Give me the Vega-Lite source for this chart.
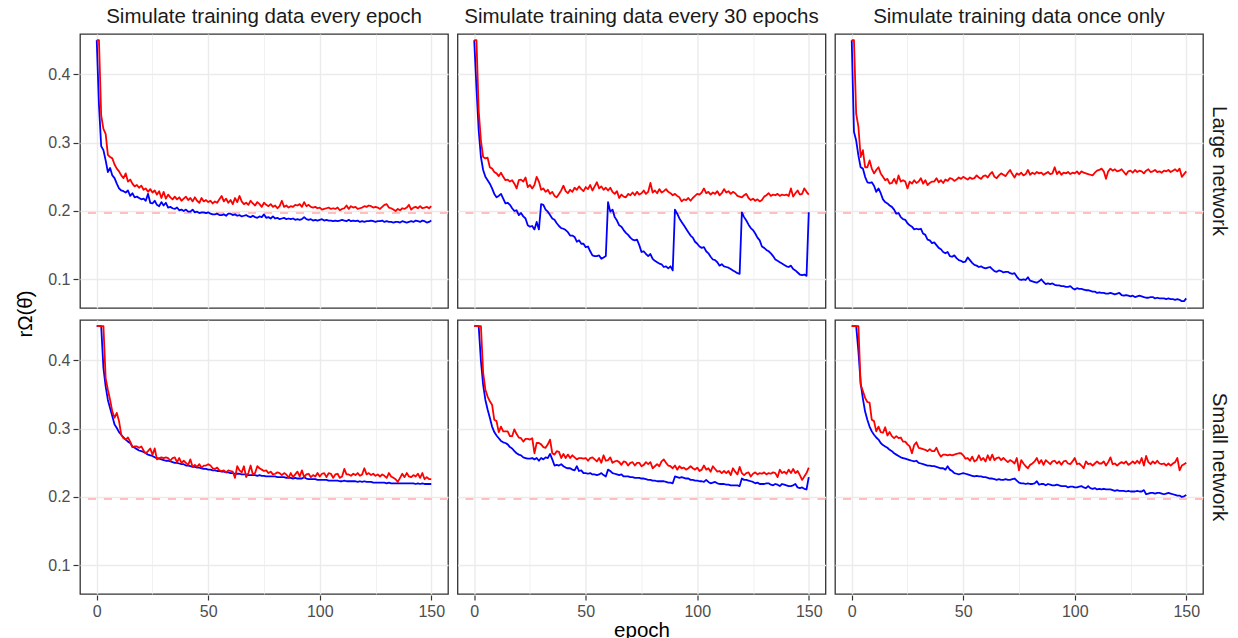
{
"$schema": "https://vega.github.io/schema/vega-lite/v6.json",
"background": "white",
"padding": {"left": 15, "top": 6, "right": 0, "bottom": 0},
"datasets": {
"panels": [
{"p":"LE","net":"Large network","sim":"Simulate training data every epoch"},
{"p":"L3","net":"Large network","sim":"Simulate training data every 30 epochs"},
{"p":"LO","net":"Large network","sim":"Simulate training data once only"},
{"p":"SE","net":"Small network","sim":"Simulate training data every epoch"},
{"p":"S3","net":"Small network","sim":"Simulate training data every 30 epochs"},
{"p":"SO","net":"Small network","sim":"Simulate training data once only"}
],
"d": [
{"p":"LE","e":0,"b":0.45,"r":0.45},{"p":"LE","e":1,"b":0.355,"r":0.45},{"p":"LE","e":2,"b":0.295,"r":0.34},{"p":"LE","e":3,"b":0.289,"r":0.32},{"p":"LE","e":4,"b":0.274,"r":0.313},{"p":"LE","e":5,"b":0.257,"r":0.282},{"p":"LE","e":6,"b":0.263,"r":0.279},{"p":"LE","e":7,"b":0.252,"r":0.277},{"p":"LE","e":8,"b":0.248,"r":0.268},{"p":"LE","e":9,"b":0.24,"r":0.262},
{"p":"LE","e":10,"b":0.233,"r":0.258},{"p":"LE","e":11,"b":0.23,"r":0.252},{"p":"LE","e":12,"b":0.229,"r":0.248},{"p":"LE","e":13,"b":0.227,"r":0.255},{"p":"LE","e":14,"b":0.23,"r":0.243},{"p":"LE","e":15,"b":0.222,"r":0.246},{"p":"LE","e":16,"b":0.226,"r":0.24},{"p":"LE","e":17,"b":0.22,"r":0.236},{"p":"LE","e":18,"b":0.221,"r":0.238},{"p":"LE","e":19,"b":0.219,"r":0.234},
{"p":"LE","e":20,"b":0.217,"r":0.237},{"p":"LE","e":21,"b":0.218,"r":0.231},{"p":"LE","e":22,"b":0.215,"r":0.233},{"p":"LE","e":23,"b":0.225,"r":0.228},{"p":"LE","e":24,"b":0.212,"r":0.232},{"p":"LE","e":25,"b":0.211,"r":0.227},{"p":"LE","e":26,"b":0.215,"r":0.23},{"p":"LE","e":27,"b":0.209,"r":0.224},{"p":"LE","e":28,"b":0.207,"r":0.229},{"p":"LE","e":29,"b":0.213,"r":0.219},
{"p":"LE","e":30,"b":0.208,"r":0.228},{"p":"LE","e":31,"b":0.212,"r":0.218},{"p":"LE","e":32,"b":0.205,"r":0.224},{"p":"LE","e":33,"b":0.206,"r":0.22},{"p":"LE","e":34,"b":0.204,"r":0.217},{"p":"LE","e":35,"b":0.203,"r":0.221},{"p":"LE","e":36,"b":0.205,"r":0.217},{"p":"LE","e":37,"b":0.201,"r":0.22},{"p":"LE","e":38,"b":0.202,"r":0.215},{"p":"LE","e":39,"b":0.2,"r":0.218},
{"p":"LE","e":40,"b":0.202,"r":0.221},{"p":"LE","e":41,"b":0.199,"r":0.216},{"p":"LE","e":42,"b":0.199,"r":0.219},{"p":"LE","e":43,"b":0.202,"r":0.214},{"p":"LE","e":44,"b":0.198,"r":0.22},{"p":"LE","e":45,"b":0.199,"r":0.215},{"p":"LE","e":46,"b":0.197,"r":0.212},{"p":"LE","e":47,"b":0.198,"r":0.219},{"p":"LE","e":48,"b":0.198,"r":0.214},{"p":"LE","e":49,"b":0.197,"r":0.216},
{"p":"LE","e":50,"b":0.198,"r":0.213},{"p":"LE","e":51,"b":0.196,"r":0.215},{"p":"LE","e":52,"b":0.195,"r":0.211},{"p":"LE","e":53,"b":0.195,"r":0.214},{"p":"LE","e":54,"b":0.196,"r":0.212},{"p":"LE","e":55,"b":0.194,"r":0.217},{"p":"LE","e":56,"b":0.194,"r":0.222},{"p":"LE","e":57,"b":0.195,"r":0.214},{"p":"LE","e":58,"b":0.193,"r":0.218},{"p":"LE","e":59,"b":0.196,"r":0.212},
{"p":"LE","e":60,"b":0.196,"r":0.216},{"p":"LE","e":61,"b":0.194,"r":0.21},{"p":"LE","e":62,"b":0.195,"r":0.219},{"p":"LE","e":63,"b":0.193,"r":0.213},{"p":"LE","e":64,"b":0.194,"r":0.222},{"p":"LE","e":65,"b":0.192,"r":0.214},{"p":"LE","e":66,"b":0.193,"r":0.21},{"p":"LE","e":67,"b":0.194,"r":0.212},{"p":"LE","e":68,"b":0.192,"r":0.209},{"p":"LE","e":69,"b":0.191,"r":0.215},
{"p":"LE","e":70,"b":0.193,"r":0.211},{"p":"LE","e":71,"b":0.191,"r":0.208},{"p":"LE","e":72,"b":0.19,"r":0.213},{"p":"LE","e":73,"b":0.192,"r":0.21},{"p":"LE","e":74,"b":0.191,"r":0.206},{"p":"LE","e":75,"b":0.195,"r":0.212},{"p":"LE","e":76,"b":0.19,"r":0.209},{"p":"LE","e":77,"b":0.191,"r":0.207},{"p":"LE","e":78,"b":0.189,"r":0.21},{"p":"LE","e":79,"b":0.192,"r":0.206},
{"p":"LE","e":80,"b":0.189,"r":0.208},{"p":"LE","e":81,"b":0.19,"r":0.204},{"p":"LE","e":82,"b":0.188,"r":0.207},{"p":"LE","e":83,"b":0.189,"r":0.215},{"p":"LE","e":84,"b":0.19,"r":0.206},{"p":"LE","e":85,"b":0.188,"r":0.208},{"p":"LE","e":86,"b":0.189,"r":0.205},{"p":"LE","e":87,"b":0.188,"r":0.207},{"p":"LE","e":88,"b":0.189,"r":0.206},{"p":"LE","e":89,"b":0.187,"r":0.209},
{"p":"LE","e":90,"b":0.188,"r":0.208},{"p":"LE","e":91,"b":0.187,"r":0.21},{"p":"LE","e":92,"b":0.188,"r":0.206},{"p":"LE","e":93,"b":0.191,"r":0.213},{"p":"LE","e":94,"b":0.188,"r":0.207},{"p":"LE","e":95,"b":0.187,"r":0.209},{"p":"LE","e":96,"b":0.188,"r":0.206},{"p":"LE","e":97,"b":0.186,"r":0.205},{"p":"LE","e":98,"b":0.187,"r":0.206},{"p":"LE","e":99,"b":0.186,"r":0.204},
{"p":"LE","e":100,"b":0.187,"r":0.205},{"p":"LE","e":101,"b":0.188,"r":0.202},{"p":"LE","e":102,"b":0.186,"r":0.203},{"p":"LE","e":103,"b":0.187,"r":0.204},{"p":"LE","e":104,"b":0.186,"r":0.205},{"p":"LE","e":105,"b":0.186,"r":0.203},{"p":"LE","e":106,"b":0.185,"r":0.204},{"p":"LE","e":107,"b":0.186,"r":0.203},{"p":"LE","e":108,"b":0.185,"r":0.205},{"p":"LE","e":109,"b":0.186,"r":0.201},
{"p":"LE","e":110,"b":0.187,"r":0.203},{"p":"LE","e":111,"b":0.186,"r":0.204},{"p":"LE","e":112,"b":0.185,"r":0.208},{"p":"LE","e":113,"b":0.187,"r":0.203},{"p":"LE","e":114,"b":0.185,"r":0.207},{"p":"LE","e":115,"b":0.186,"r":0.205},{"p":"LE","e":116,"b":0.185,"r":0.206},{"p":"LE","e":117,"b":0.186,"r":0.203},{"p":"LE","e":118,"b":0.184,"r":0.204},{"p":"LE","e":119,"b":0.185,"r":0.205},
{"p":"LE","e":120,"b":0.184,"r":0.207},{"p":"LE","e":121,"b":0.185,"r":0.206},{"p":"LE","e":122,"b":0.185,"r":0.208},{"p":"LE","e":123,"b":0.186,"r":0.207},{"p":"LE","e":124,"b":0.185,"r":0.205},{"p":"LE","e":125,"b":0.184,"r":0.206},{"p":"LE","e":126,"b":0.185,"r":0.205},{"p":"LE","e":127,"b":0.185,"r":0.203},{"p":"LE","e":128,"b":0.186,"r":0.206},{"p":"LE","e":129,"b":0.184,"r":0.209},
{"p":"LE","e":130,"b":0.185,"r":0.21},{"p":"LE","e":131,"b":0.184,"r":0.205},{"p":"LE","e":132,"b":0.184,"r":0.204},{"p":"LE","e":133,"b":0.183,"r":0.202},{"p":"LE","e":134,"b":0.184,"r":0.2},{"p":"LE","e":135,"b":0.184,"r":0.203},{"p":"LE","e":136,"b":0.183,"r":0.201},{"p":"LE","e":137,"b":0.185,"r":0.204},{"p":"LE","e":138,"b":0.184,"r":0.203},{"p":"LE","e":139,"b":0.183,"r":0.205},
{"p":"LE","e":140,"b":0.184,"r":0.209},{"p":"LE","e":141,"b":0.185,"r":0.202},{"p":"LE","e":142,"b":0.184,"r":0.205},{"p":"LE","e":143,"b":0.186,"r":0.206},{"p":"LE","e":144,"b":0.185,"r":0.204},{"p":"LE","e":145,"b":0.184,"r":0.207},{"p":"LE","e":146,"b":0.186,"r":0.204},{"p":"LE","e":147,"b":0.185,"r":0.205},{"p":"LE","e":148,"b":0.183,"r":0.206},{"p":"LE","e":149,"b":0.184,"r":0.204},
{"p":"LE","e":150,"b":0.186,"r":0.207},
{"p":"L3","e":0,"b":0.45,"r":0.45},{"p":"L3","e":1,"b":0.38,"r":0.45},{"p":"L3","e":2,"b":0.318,"r":0.347},{"p":"L3","e":3,"b":0.279,"r":0.303},{"p":"L3","e":4,"b":0.26,"r":0.279},{"p":"L3","e":5,"b":0.25,"r":0.277},{"p":"L3","e":6,"b":0.245,"r":0.278},{"p":"L3","e":7,"b":0.24,"r":0.264},{"p":"L3","e":8,"b":0.233,"r":0.262},{"p":"L3","e":9,"b":0.225,"r":0.257},
{"p":"L3","e":10,"b":0.22,"r":0.255},{"p":"L3","e":11,"b":0.222,"r":0.251},{"p":"L3","e":12,"b":0.225,"r":0.256},{"p":"L3","e":13,"b":0.218,"r":0.25},{"p":"L3","e":14,"b":0.211,"r":0.245},{"p":"L3","e":15,"b":0.212,"r":0.246},{"p":"L3","e":16,"b":0.209,"r":0.243},{"p":"L3","e":17,"b":0.204,"r":0.245},{"p":"L3","e":18,"b":0.2,"r":0.24},{"p":"L3","e":19,"b":0.201,"r":0.233},
{"p":"L3","e":20,"b":0.194,"r":0.245},{"p":"L3","e":21,"b":0.197,"r":0.246},{"p":"L3","e":22,"b":0.192,"r":0.243},{"p":"L3","e":23,"b":0.189,"r":0.249},{"p":"L3","e":24,"b":0.179,"r":0.235},{"p":"L3","e":25,"b":0.177,"r":0.238},{"p":"L3","e":26,"b":0.178,"r":0.233},{"p":"L3","e":27,"b":0.173,"r":0.238},{"p":"L3","e":28,"b":0.184,"r":0.25},{"p":"L3","e":29,"b":0.173,"r":0.243},
{"p":"L3","e":30,"b":0.21,"r":0.231},{"p":"L3","e":31,"b":0.209,"r":0.233},{"p":"L3","e":32,"b":0.202,"r":0.228},{"p":"L3","e":33,"b":0.199,"r":0.231},{"p":"L3","e":34,"b":0.194,"r":0.225},{"p":"L3","e":35,"b":0.189,"r":0.228},{"p":"L3","e":36,"b":0.187,"r":0.222},{"p":"L3","e":37,"b":0.182,"r":0.22},{"p":"L3","e":38,"b":0.178,"r":0.225},{"p":"L3","e":39,"b":0.175,"r":0.23},
{"p":"L3","e":40,"b":0.174,"r":0.237},{"p":"L3","e":41,"b":0.172,"r":0.229},{"p":"L3","e":42,"b":0.169,"r":0.226},{"p":"L3","e":43,"b":0.164,"r":0.231},{"p":"L3","e":44,"b":0.164,"r":0.228},{"p":"L3","e":45,"b":0.162,"r":0.234},{"p":"L3","e":46,"b":0.155,"r":0.231},{"p":"L3","e":47,"b":0.157,"r":0.236},{"p":"L3","e":48,"b":0.152,"r":0.232},{"p":"L3","e":49,"b":0.152,"r":0.229},
{"p":"L3","e":50,"b":0.147,"r":0.235},{"p":"L3","e":51,"b":0.148,"r":0.232},{"p":"L3","e":52,"b":0.141,"r":0.238},{"p":"L3","e":53,"b":0.135,"r":0.23},{"p":"L3","e":54,"b":0.134,"r":0.236},{"p":"L3","e":55,"b":0.134,"r":0.242},{"p":"L3","e":56,"b":0.135,"r":0.233},{"p":"L3","e":57,"b":0.13,"r":0.236},{"p":"L3","e":58,"b":0.132,"r":0.231},{"p":"L3","e":59,"b":0.134,"r":0.234},
{"p":"L3","e":60,"b":0.213,"r":0.23},{"p":"L3","e":61,"b":0.199,"r":0.234},{"p":"L3","e":62,"b":0.202,"r":0.228},{"p":"L3","e":63,"b":0.191,"r":0.225},{"p":"L3","e":64,"b":0.186,"r":0.229},{"p":"L3","e":65,"b":0.179,"r":0.219},{"p":"L3","e":66,"b":0.177,"r":0.224},{"p":"L3","e":67,"b":0.172,"r":0.221},{"p":"L3","e":68,"b":0.168,"r":0.22},{"p":"L3","e":69,"b":0.165,"r":0.225},
{"p":"L3","e":70,"b":0.161,"r":0.223},{"p":"L3","e":71,"b":0.158,"r":0.227},{"p":"L3","e":72,"b":0.157,"r":0.223},{"p":"L3","e":73,"b":0.158,"r":0.228},{"p":"L3","e":74,"b":0.15,"r":0.224},{"p":"L3","e":75,"b":0.14,"r":0.226},{"p":"L3","e":76,"b":0.141,"r":0.23},{"p":"L3","e":77,"b":0.137,"r":0.225},{"p":"L3","e":78,"b":0.134,"r":0.228},{"p":"L3","e":79,"b":0.137,"r":0.241},
{"p":"L3","e":80,"b":0.13,"r":0.227},{"p":"L3","e":81,"b":0.127,"r":0.23},{"p":"L3","e":82,"b":0.125,"r":0.226},{"p":"L3","e":83,"b":0.123,"r":0.232},{"p":"L3","e":84,"b":0.122,"r":0.227},{"p":"L3","e":85,"b":0.118,"r":0.229},{"p":"L3","e":86,"b":0.119,"r":0.232},{"p":"L3","e":87,"b":0.116,"r":0.228},{"p":"L3","e":88,"b":0.119,"r":0.226},{"p":"L3","e":89,"b":0.113,"r":0.223},
{"p":"L3","e":90,"b":0.202,"r":0.225},{"p":"L3","e":91,"b":0.196,"r":0.222},{"p":"L3","e":92,"b":0.189,"r":0.22},{"p":"L3","e":93,"b":0.184,"r":0.214},{"p":"L3","e":94,"b":0.179,"r":0.217},{"p":"L3","e":95,"b":0.174,"r":0.216},{"p":"L3","e":96,"b":0.169,"r":0.219},{"p":"L3","e":97,"b":0.164,"r":0.215},{"p":"L3","e":98,"b":0.161,"r":0.219},{"p":"L3","e":99,"b":0.155,"r":0.222},
{"p":"L3","e":100,"b":0.152,"r":0.225},{"p":"L3","e":101,"b":0.148,"r":0.224},{"p":"L3","e":102,"b":0.146,"r":0.227},{"p":"L3","e":103,"b":0.147,"r":0.233},{"p":"L3","e":104,"b":0.141,"r":0.226},{"p":"L3","e":105,"b":0.138,"r":0.228},{"p":"L3","e":106,"b":0.133,"r":0.224},{"p":"L3","e":107,"b":0.129,"r":0.227},{"p":"L3","e":108,"b":0.128,"r":0.225},{"p":"L3","e":109,"b":0.125,"r":0.229},
{"p":"L3","e":110,"b":0.12,"r":0.223},{"p":"L3","e":111,"b":0.122,"r":0.226},{"p":"L3","e":112,"b":0.119,"r":0.232},{"p":"L3","e":113,"b":0.118,"r":0.227},{"p":"L3","e":114,"b":0.117,"r":0.229},{"p":"L3","e":115,"b":0.115,"r":0.225},{"p":"L3","e":116,"b":0.113,"r":0.228},{"p":"L3","e":117,"b":0.111,"r":0.226},{"p":"L3","e":118,"b":0.109,"r":0.222},{"p":"L3","e":119,"b":0.108,"r":0.221},
{"p":"L3","e":120,"b":0.198,"r":0.22},{"p":"L3","e":121,"b":0.191,"r":0.223},{"p":"L3","e":122,"b":0.186,"r":0.225},{"p":"L3","e":123,"b":0.18,"r":0.219},{"p":"L3","e":124,"b":0.175,"r":0.216},{"p":"L3","e":125,"b":0.172,"r":0.218},{"p":"L3","e":126,"b":0.167,"r":0.215},{"p":"L3","e":127,"b":0.161,"r":0.217},{"p":"L3","e":128,"b":0.157,"r":0.214},{"p":"L3","e":129,"b":0.148,"r":0.216},
{"p":"L3","e":130,"b":0.146,"r":0.221},{"p":"L3","e":131,"b":0.143,"r":0.223},{"p":"L3","e":132,"b":0.141,"r":0.226},{"p":"L3","e":133,"b":0.138,"r":0.222},{"p":"L3","e":134,"b":0.134,"r":0.224},{"p":"L3","e":135,"b":0.129,"r":0.223},{"p":"L3","e":136,"b":0.127,"r":0.225},{"p":"L3","e":137,"b":0.125,"r":0.222},{"p":"L3","e":138,"b":0.123,"r":0.224},{"p":"L3","e":139,"b":0.121,"r":0.223},
{"p":"L3","e":140,"b":0.119,"r":0.224},{"p":"L3","e":141,"b":0.118,"r":0.222},{"p":"L3","e":142,"b":0.12,"r":0.233},{"p":"L3","e":143,"b":0.115,"r":0.221},{"p":"L3","e":144,"b":0.113,"r":0.226},{"p":"L3","e":145,"b":0.11,"r":0.23},{"p":"L3","e":146,"b":0.107,"r":0.224},{"p":"L3","e":147,"b":0.106,"r":0.225},{"p":"L3","e":148,"b":0.107,"r":0.233},{"p":"L3","e":149,"b":0.105,"r":0.228},
{"p":"L3","e":150,"b":0.198,"r":0.224},
{"p":"LO","e":0,"b":0.45,"r":0.45},{"p":"LO","e":1,"b":0.316,"r":0.45},{"p":"LO","e":2,"b":0.303,"r":0.342},{"p":"LO","e":3,"b":0.281,"r":0.323},{"p":"LO","e":4,"b":0.264,"r":0.279},{"p":"LO","e":5,"b":0.262,"r":0.289},{"p":"LO","e":6,"b":0.25,"r":0.264},{"p":"LO","e":7,"b":0.242,"r":0.264},{"p":"LO","e":8,"b":0.241,"r":0.274},{"p":"LO","e":9,"b":0.242,"r":0.262},
{"p":"LO","e":10,"b":0.237,"r":0.255},{"p":"LO","e":11,"b":0.228,"r":0.26},{"p":"LO","e":12,"b":0.233,"r":0.264},{"p":"LO","e":13,"b":0.226,"r":0.255},{"p":"LO","e":14,"b":0.217,"r":0.25},{"p":"LO","e":15,"b":0.213,"r":0.245},{"p":"LO","e":16,"b":0.211,"r":0.247},{"p":"LO","e":17,"b":0.208,"r":0.24},{"p":"LO","e":18,"b":0.206,"r":0.241},{"p":"LO","e":19,"b":0.202,"r":0.247},
{"p":"LO","e":20,"b":0.196,"r":0.24},{"p":"LO","e":21,"b":0.197,"r":0.252},{"p":"LO","e":22,"b":0.191,"r":0.243},{"p":"LO","e":23,"b":0.188,"r":0.245},{"p":"LO","e":24,"b":0.187,"r":0.243},{"p":"LO","e":25,"b":0.182,"r":0.233},{"p":"LO","e":26,"b":0.179,"r":0.243},{"p":"LO","e":27,"b":0.177,"r":0.24},{"p":"LO","e":28,"b":0.173,"r":0.245},{"p":"LO","e":29,"b":0.174,"r":0.241},
{"p":"LO","e":30,"b":0.173,"r":0.243},{"p":"LO","e":31,"b":0.174,"r":0.248},{"p":"LO","e":32,"b":0.167,"r":0.24},{"p":"LO","e":33,"b":0.165,"r":0.245},{"p":"LO","e":34,"b":0.158,"r":0.238},{"p":"LO","e":35,"b":0.157,"r":0.241},{"p":"LO","e":36,"b":0.153,"r":0.243},{"p":"LO","e":37,"b":0.154,"r":0.243},{"p":"LO","e":38,"b":0.15,"r":0.248},{"p":"LO","e":39,"b":0.146,"r":0.242},
{"p":"LO","e":40,"b":0.144,"r":0.245},{"p":"LO","e":41,"b":0.14,"r":0.241},{"p":"LO","e":42,"b":0.138,"r":0.246},{"p":"LO","e":43,"b":0.14,"r":0.244},{"p":"LO","e":44,"b":0.134,"r":0.248},{"p":"LO","e":45,"b":0.133,"r":0.247},{"p":"LO","e":46,"b":0.135,"r":0.244},{"p":"LO","e":47,"b":0.131,"r":0.246},{"p":"LO","e":48,"b":0.128,"r":0.249},{"p":"LO","e":49,"b":0.127,"r":0.247},
{"p":"LO","e":50,"b":0.125,"r":0.25},{"p":"LO","e":51,"b":0.126,"r":0.248},{"p":"LO","e":52,"b":0.132,"r":0.246},{"p":"LO","e":53,"b":0.128,"r":0.249},{"p":"LO","e":54,"b":0.124,"r":0.247},{"p":"LO","e":55,"b":0.121,"r":0.248},{"p":"LO","e":56,"b":0.12,"r":0.252},{"p":"LO","e":57,"b":0.118,"r":0.249},{"p":"LO","e":58,"b":0.119,"r":0.247},{"p":"LO","e":59,"b":0.117,"r":0.251},
{"p":"LO","e":60,"b":0.116,"r":0.252},{"p":"LO","e":61,"b":0.117,"r":0.249},{"p":"LO","e":62,"b":0.118,"r":0.254},{"p":"LO","e":63,"b":0.115,"r":0.257},{"p":"LO","e":64,"b":0.112,"r":0.25},{"p":"LO","e":65,"b":0.111,"r":0.248},{"p":"LO","e":66,"b":0.113,"r":0.252},{"p":"LO","e":67,"b":0.112,"r":0.255},{"p":"LO","e":68,"b":0.11,"r":0.253},{"p":"LO","e":69,"b":0.111,"r":0.251},
{"p":"LO","e":70,"b":0.111,"r":0.256},{"p":"LO","e":71,"b":0.109,"r":0.26},{"p":"LO","e":72,"b":0.108,"r":0.254},{"p":"LO","e":73,"b":0.109,"r":0.249},{"p":"LO","e":74,"b":0.104,"r":0.255},{"p":"LO","e":75,"b":0.1,"r":0.253},{"p":"LO","e":76,"b":0.099,"r":0.256},{"p":"LO","e":77,"b":0.1,"r":0.252},{"p":"LO","e":78,"b":0.099,"r":0.254},{"p":"LO","e":79,"b":0.103,"r":0.26},
{"p":"LO","e":80,"b":0.098,"r":0.253},{"p":"LO","e":81,"b":0.097,"r":0.256},{"p":"LO","e":82,"b":0.096,"r":0.254},{"p":"LO","e":83,"b":0.095,"r":0.257},{"p":"LO","e":84,"b":0.097,"r":0.255},{"p":"LO","e":85,"b":0.1,"r":0.256},{"p":"LO","e":86,"b":0.096,"r":0.253},{"p":"LO","e":87,"b":0.093,"r":0.255},{"p":"LO","e":88,"b":0.094,"r":0.257},{"p":"LO","e":89,"b":0.093,"r":0.254},
{"p":"LO","e":90,"b":0.094,"r":0.255},{"p":"LO","e":91,"b":0.092,"r":0.264},{"p":"LO","e":92,"b":0.091,"r":0.254},{"p":"LO","e":93,"b":0.091,"r":0.258},{"p":"LO","e":94,"b":0.09,"r":0.253},{"p":"LO","e":95,"b":0.09,"r":0.256},{"p":"LO","e":96,"b":0.089,"r":0.255},{"p":"LO","e":97,"b":0.089,"r":0.257},{"p":"LO","e":98,"b":0.09,"r":0.254},{"p":"LO","e":99,"b":0.087,"r":0.256},
{"p":"LO","e":100,"b":0.085,"r":0.255},{"p":"LO","e":101,"b":0.087,"r":0.258},{"p":"LO","e":102,"b":0.086,"r":0.254},{"p":"LO","e":103,"b":0.086,"r":0.258},{"p":"LO","e":104,"b":0.085,"r":0.256},{"p":"LO","e":105,"b":0.084,"r":0.255},{"p":"LO","e":106,"b":0.084,"r":0.254},{"p":"LO","e":107,"b":0.083,"r":0.253},{"p":"LO","e":108,"b":0.082,"r":0.252},{"p":"LO","e":109,"b":0.082,"r":0.256},
{"p":"LO","e":110,"b":0.08,"r":0.259},{"p":"LO","e":111,"b":0.081,"r":0.26},{"p":"LO","e":112,"b":0.08,"r":0.262},{"p":"LO","e":113,"b":0.08,"r":0.258},{"p":"LO","e":114,"b":0.079,"r":0.247},{"p":"LO","e":115,"b":0.079,"r":0.258},{"p":"LO","e":116,"b":0.08,"r":0.262},{"p":"LO","e":117,"b":0.079,"r":0.259},{"p":"LO","e":118,"b":0.078,"r":0.261},{"p":"LO","e":119,"b":0.079,"r":0.258},
{"p":"LO","e":120,"b":0.08,"r":0.259},{"p":"LO","e":121,"b":0.077,"r":0.261},{"p":"LO","e":122,"b":0.076,"r":0.257},{"p":"LO","e":123,"b":0.077,"r":0.253},{"p":"LO","e":124,"b":0.076,"r":0.258},{"p":"LO","e":125,"b":0.075,"r":0.259},{"p":"LO","e":126,"b":0.076,"r":0.256},{"p":"LO","e":127,"b":0.074,"r":0.26},{"p":"LO","e":128,"b":0.075,"r":0.257},{"p":"LO","e":129,"b":0.076,"r":0.259},
{"p":"LO","e":130,"b":0.075,"r":0.258},{"p":"LO","e":131,"b":0.074,"r":0.255},{"p":"LO","e":132,"b":0.073,"r":0.259},{"p":"LO","e":133,"b":0.073,"r":0.261},{"p":"LO","e":134,"b":0.074,"r":0.257},{"p":"LO","e":135,"b":0.074,"r":0.258},{"p":"LO","e":136,"b":0.072,"r":0.26},{"p":"LO","e":137,"b":0.073,"r":0.257},{"p":"LO","e":138,"b":0.072,"r":0.258},{"p":"LO","e":139,"b":0.072,"r":0.256},
{"p":"LO","e":140,"b":0.072,"r":0.259},{"p":"LO","e":141,"b":0.071,"r":0.258},{"p":"LO","e":142,"b":0.072,"r":0.26},{"p":"LO","e":143,"b":0.071,"r":0.257},{"p":"LO","e":144,"b":0.071,"r":0.259},{"p":"LO","e":145,"b":0.07,"r":0.261},{"p":"LO","e":146,"b":0.071,"r":0.258},{"p":"LO","e":147,"b":0.07,"r":0.262},{"p":"LO","e":148,"b":0.068,"r":0.25},{"p":"LO","e":149,"b":0.068,"r":0.254},
{"p":"LO","e":150,"b":0.072,"r":0.258},
{"p":"SE","e":0,"b":0.45,"r":0.45},{"p":"SE","e":1,"b":0.45,"r":0.45},{"p":"SE","e":2,"b":0.45,"r":0.45},{"p":"SE","e":3,"b":0.389,"r":0.45},{"p":"SE","e":4,"b":0.362,"r":0.374},{"p":"SE","e":5,"b":0.342,"r":0.357},{"p":"SE","e":6,"b":0.33,"r":0.342},{"p":"SE","e":7,"b":0.318,"r":0.325},{"p":"SE","e":8,"b":0.306,"r":0.316},{"p":"SE","e":9,"b":0.301,"r":0.323},
{"p":"SE","e":10,"b":0.295,"r":0.311},{"p":"SE","e":11,"b":0.291,"r":0.291},{"p":"SE","e":12,"b":0.287,"r":0.286},{"p":"SE","e":13,"b":0.284,"r":0.284},{"p":"SE","e":14,"b":0.281,"r":0.287},{"p":"SE","e":15,"b":0.279,"r":0.281},{"p":"SE","e":16,"b":0.274,"r":0.273},{"p":"SE","e":17,"b":0.272,"r":0.274},{"p":"SE","e":18,"b":0.27,"r":0.274},{"p":"SE","e":19,"b":0.268,"r":0.272},
{"p":"SE","e":20,"b":0.267,"r":0.274},{"p":"SE","e":21,"b":0.266,"r":0.268},{"p":"SE","e":22,"b":0.264,"r":0.264},{"p":"SE","e":23,"b":0.262,"r":0.267},{"p":"SE","e":24,"b":0.261,"r":0.271},{"p":"SE","e":25,"b":0.26,"r":0.262},{"p":"SE","e":26,"b":0.258,"r":0.271},{"p":"SE","e":27,"b":0.257,"r":0.255},{"p":"SE","e":28,"b":0.256,"r":0.257},{"p":"SE","e":29,"b":0.255,"r":0.258},
{"p":"SE","e":30,"b":0.254,"r":0.257},{"p":"SE","e":31,"b":0.253,"r":0.258},{"p":"SE","e":32,"b":0.253,"r":0.257},{"p":"SE","e":33,"b":0.252,"r":0.253},{"p":"SE","e":34,"b":0.251,"r":0.257},{"p":"SE","e":35,"b":0.25,"r":0.258},{"p":"SE","e":36,"b":0.25,"r":0.251},{"p":"SE","e":37,"b":0.249,"r":0.257},{"p":"SE","e":38,"b":0.248,"r":0.25},{"p":"SE","e":39,"b":0.248,"r":0.253},
{"p":"SE","e":40,"b":0.246,"r":0.25},{"p":"SE","e":41,"b":0.246,"r":0.247},{"p":"SE","e":42,"b":0.245,"r":0.255},{"p":"SE","e":43,"b":0.244,"r":0.244},{"p":"SE","e":44,"b":0.244,"r":0.247},{"p":"SE","e":45,"b":0.243,"r":0.244},{"p":"SE","e":46,"b":0.243,"r":0.248},{"p":"SE","e":47,"b":0.242,"r":0.243},{"p":"SE","e":48,"b":0.241,"r":0.246},{"p":"SE","e":49,"b":0.241,"r":0.246},
{"p":"SE","e":50,"b":0.24,"r":0.248},{"p":"SE","e":51,"b":0.24,"r":0.246},{"p":"SE","e":52,"b":0.239,"r":0.242},{"p":"SE","e":53,"b":0.239,"r":0.241},{"p":"SE","e":54,"b":0.238,"r":0.243},{"p":"SE","e":55,"b":0.238,"r":0.239},{"p":"SE","e":56,"b":0.237,"r":0.238},{"p":"SE","e":57,"b":0.237,"r":0.239},{"p":"SE","e":58,"b":0.236,"r":0.236},{"p":"SE","e":59,"b":0.236,"r":0.239},
{"p":"SE","e":60,"b":0.235,"r":0.238},{"p":"SE","e":61,"b":0.235,"r":0.237},{"p":"SE","e":62,"b":0.234,"r":0.228},{"p":"SE","e":63,"b":0.234,"r":0.245},{"p":"SE","e":64,"b":0.234,"r":0.239},{"p":"SE","e":65,"b":0.233,"r":0.236},{"p":"SE","e":66,"b":0.233,"r":0.245},{"p":"SE","e":67,"b":0.233,"r":0.229},{"p":"SE","e":68,"b":0.232,"r":0.235},{"p":"SE","e":69,"b":0.232,"r":0.246},
{"p":"SE","e":70,"b":0.232,"r":0.233},{"p":"SE","e":71,"b":0.232,"r":0.235},{"p":"SE","e":72,"b":0.231,"r":0.245},{"p":"SE","e":73,"b":0.232,"r":0.242},{"p":"SE","e":74,"b":0.231,"r":0.24},{"p":"SE","e":75,"b":0.231,"r":0.238},{"p":"SE","e":76,"b":0.23,"r":0.239},{"p":"SE","e":77,"b":0.23,"r":0.235},{"p":"SE","e":78,"b":0.23,"r":0.237},{"p":"SE","e":79,"b":0.23,"r":0.233},
{"p":"SE","e":80,"b":0.23,"r":0.234},{"p":"SE","e":81,"b":0.229,"r":0.236},{"p":"SE","e":82,"b":0.229,"r":0.235},{"p":"SE","e":83,"b":0.229,"r":0.232},{"p":"SE","e":84,"b":0.229,"r":0.235},{"p":"SE","e":85,"b":0.228,"r":0.233},{"p":"SE","e":86,"b":0.228,"r":0.228},{"p":"SE","e":87,"b":0.228,"r":0.235},{"p":"SE","e":88,"b":0.227,"r":0.229},{"p":"SE","e":89,"b":0.228,"r":0.233},
{"p":"SE","e":90,"b":0.227,"r":0.237},{"p":"SE","e":91,"b":0.227,"r":0.23},{"p":"SE","e":92,"b":0.227,"r":0.239},{"p":"SE","e":93,"b":0.229,"r":0.229},{"p":"SE","e":94,"b":0.227,"r":0.233},{"p":"SE","e":95,"b":0.226,"r":0.234},{"p":"SE","e":96,"b":0.226,"r":0.229},{"p":"SE","e":97,"b":0.226,"r":0.232},{"p":"SE","e":98,"b":0.226,"r":0.23},{"p":"SE","e":99,"b":0.225,"r":0.235},
{"p":"SE","e":100,"b":0.225,"r":0.23},{"p":"SE","e":101,"b":0.225,"r":0.234},{"p":"SE","e":102,"b":0.225,"r":0.235},{"p":"SE","e":103,"b":0.225,"r":0.229},{"p":"SE","e":104,"b":0.224,"r":0.235},{"p":"SE","e":105,"b":0.224,"r":0.234},{"p":"SE","e":106,"b":0.224,"r":0.228},{"p":"SE","e":107,"b":0.224,"r":0.233},{"p":"SE","e":108,"b":0.224,"r":0.234},{"p":"SE","e":109,"b":0.223,"r":0.228},
{"p":"SE","e":110,"b":0.223,"r":0.23},{"p":"SE","e":111,"b":0.224,"r":0.241},{"p":"SE","e":112,"b":0.223,"r":0.233},{"p":"SE","e":113,"b":0.223,"r":0.233},{"p":"SE","e":114,"b":0.223,"r":0.231},{"p":"SE","e":115,"b":0.223,"r":0.234},{"p":"SE","e":116,"b":0.223,"r":0.232},{"p":"SE","e":117,"b":0.222,"r":0.235},{"p":"SE","e":118,"b":0.223,"r":0.231},{"p":"SE","e":119,"b":0.222,"r":0.233},
{"p":"SE","e":120,"b":0.223,"r":0.242},{"p":"SE","e":121,"b":0.222,"r":0.233},{"p":"SE","e":122,"b":0.222,"r":0.235},{"p":"SE","e":123,"b":0.222,"r":0.232},{"p":"SE","e":124,"b":0.221,"r":0.234},{"p":"SE","e":125,"b":0.221,"r":0.231},{"p":"SE","e":126,"b":0.221,"r":0.233},{"p":"SE","e":127,"b":0.221,"r":0.23},{"p":"SE","e":128,"b":0.221,"r":0.233},{"p":"SE","e":129,"b":0.221,"r":0.231},
{"p":"SE","e":130,"b":0.22,"r":0.228},{"p":"SE","e":131,"b":0.221,"r":0.235},{"p":"SE","e":132,"b":0.22,"r":0.23},{"p":"SE","e":133,"b":0.22,"r":0.228},{"p":"SE","e":134,"b":0.22,"r":0.226},{"p":"SE","e":135,"b":0.22,"r":0.222},{"p":"SE","e":136,"b":0.22,"r":0.228},{"p":"SE","e":137,"b":0.22,"r":0.234},{"p":"SE","e":138,"b":0.22,"r":0.229},{"p":"SE","e":139,"b":0.22,"r":0.235},
{"p":"SE","e":140,"b":0.22,"r":0.23},{"p":"SE","e":141,"b":0.22,"r":0.229},{"p":"SE","e":142,"b":0.22,"r":0.232},{"p":"SE","e":143,"b":0.219,"r":0.23},{"p":"SE","e":144,"b":0.22,"r":0.234},{"p":"SE","e":145,"b":0.219,"r":0.228},{"p":"SE","e":146,"b":0.22,"r":0.235},{"p":"SE","e":147,"b":0.219,"r":0.226},{"p":"SE","e":148,"b":0.219,"r":0.229},{"p":"SE","e":149,"b":0.219,"r":0.226},
{"p":"SE","e":150,"b":0.219,"r":0.226},
{"p":"S3","e":0,"b":0.45,"r":0.45},{"p":"S3","e":1,"b":0.45,"r":0.45},{"p":"S3","e":2,"b":0.45,"r":0.45},{"p":"S3","e":3,"b":0.399,"r":0.45},{"p":"S3","e":4,"b":0.364,"r":0.382},{"p":"S3","e":5,"b":0.342,"r":0.357},{"p":"S3","e":6,"b":0.328,"r":0.347},{"p":"S3","e":7,"b":0.316,"r":0.34},{"p":"S3","e":8,"b":0.303,"r":0.335},{"p":"S3","e":9,"b":0.295,"r":0.313},
{"p":"S3","e":10,"b":0.29,"r":0.311},{"p":"S3","e":11,"b":0.286,"r":0.295},{"p":"S3","e":12,"b":0.282,"r":0.303},{"p":"S3","e":13,"b":0.28,"r":0.296},{"p":"S3","e":14,"b":0.279,"r":0.296},{"p":"S3","e":15,"b":0.277,"r":0.296},{"p":"S3","e":16,"b":0.273,"r":0.289},{"p":"S3","e":17,"b":0.271,"r":0.289},{"p":"S3","e":18,"b":0.267,"r":0.299},{"p":"S3","e":19,"b":0.264,"r":0.292},
{"p":"S3","e":20,"b":0.262,"r":0.287},{"p":"S3","e":21,"b":0.261,"r":0.286},{"p":"S3","e":22,"b":0.258,"r":0.281},{"p":"S3","e":23,"b":0.257,"r":0.285},{"p":"S3","e":24,"b":0.256,"r":0.285},{"p":"S3","e":25,"b":0.256,"r":0.284},{"p":"S3","e":26,"b":0.257,"r":0.286},{"p":"S3","e":27,"b":0.255,"r":0.264},{"p":"S3","e":28,"b":0.257,"r":0.279},{"p":"S3","e":29,"b":0.253,"r":0.279},
{"p":"S3","e":30,"b":0.257,"r":0.277},{"p":"S3","e":31,"b":0.255,"r":0.273},{"p":"S3","e":32,"b":0.258,"r":0.272},{"p":"S3","e":33,"b":0.257,"r":0.277},{"p":"S3","e":34,"b":0.263,"r":0.284},{"p":"S3","e":35,"b":0.255,"r":0.264},{"p":"S3","e":36,"b":0.246,"r":0.262},{"p":"S3","e":37,"b":0.247,"r":0.267},{"p":"S3","e":38,"b":0.246,"r":0.266},{"p":"S3","e":39,"b":0.248,"r":0.257},
{"p":"S3","e":40,"b":0.245,"r":0.263},{"p":"S3","e":41,"b":0.243,"r":0.257},{"p":"S3","e":42,"b":0.242,"r":0.262},{"p":"S3","e":43,"b":0.242,"r":0.257},{"p":"S3","e":44,"b":0.24,"r":0.261},{"p":"S3","e":45,"b":0.239,"r":0.258},{"p":"S3","e":46,"b":0.245,"r":0.255},{"p":"S3","e":47,"b":0.238,"r":0.257},{"p":"S3","e":48,"b":0.239,"r":0.257},{"p":"S3","e":49,"b":0.235,"r":0.256},
{"p":"S3","e":50,"b":0.235,"r":0.257},{"p":"S3","e":51,"b":0.234,"r":0.253},{"p":"S3","e":52,"b":0.235,"r":0.257},{"p":"S3","e":53,"b":0.233,"r":0.258},{"p":"S3","e":54,"b":0.233,"r":0.255},{"p":"S3","e":55,"b":0.232,"r":0.252},{"p":"S3","e":56,"b":0.233,"r":0.257},{"p":"S3","e":57,"b":0.235,"r":0.25},{"p":"S3","e":58,"b":0.232,"r":0.261},{"p":"S3","e":59,"b":0.23,"r":0.253},
{"p":"S3","e":60,"b":0.24,"r":0.254},{"p":"S3","e":61,"b":0.238,"r":0.258},{"p":"S3","e":62,"b":0.235,"r":0.25},{"p":"S3","e":63,"b":0.234,"r":0.252},{"p":"S3","e":64,"b":0.233,"r":0.253},{"p":"S3","e":65,"b":0.232,"r":0.251},{"p":"S3","e":66,"b":0.233,"r":0.247},{"p":"S3","e":67,"b":0.23,"r":0.252},{"p":"S3","e":68,"b":0.23,"r":0.251},{"p":"S3","e":69,"b":0.23,"r":0.246},
{"p":"S3","e":70,"b":0.229,"r":0.25},{"p":"S3","e":71,"b":0.229,"r":0.251},{"p":"S3","e":72,"b":0.228,"r":0.246},{"p":"S3","e":73,"b":0.228,"r":0.25},{"p":"S3","e":74,"b":0.228,"r":0.25},{"p":"S3","e":75,"b":0.227,"r":0.245},{"p":"S3","e":76,"b":0.227,"r":0.247},{"p":"S3","e":77,"b":0.226,"r":0.251},{"p":"S3","e":78,"b":0.225,"r":0.248},{"p":"S3","e":79,"b":0.225,"r":0.251},
{"p":"S3","e":80,"b":0.224,"r":0.242},{"p":"S3","e":81,"b":0.224,"r":0.245},{"p":"S3","e":82,"b":0.223,"r":0.248},{"p":"S3","e":83,"b":0.223,"r":0.245},{"p":"S3","e":84,"b":0.223,"r":0.252},{"p":"S3","e":85,"b":0.223,"r":0.255},{"p":"S3","e":86,"b":0.222,"r":0.25},{"p":"S3","e":87,"b":0.221,"r":0.246},{"p":"S3","e":88,"b":0.221,"r":0.245},{"p":"S3","e":89,"b":0.22,"r":0.242},
{"p":"S3","e":90,"b":0.23,"r":0.246},{"p":"S3","e":91,"b":0.229,"r":0.24},{"p":"S3","e":92,"b":0.228,"r":0.245},{"p":"S3","e":93,"b":0.229,"r":0.242},{"p":"S3","e":94,"b":0.228,"r":0.243},{"p":"S3","e":95,"b":0.227,"r":0.24},{"p":"S3","e":96,"b":0.227,"r":0.242},{"p":"S3","e":97,"b":0.225,"r":0.245},{"p":"S3","e":98,"b":0.225,"r":0.242},{"p":"S3","e":99,"b":0.224,"r":0.24},
{"p":"S3","e":100,"b":0.224,"r":0.243},{"p":"S3","e":101,"b":0.223,"r":0.238},{"p":"S3","e":102,"b":0.223,"r":0.24},{"p":"S3","e":103,"b":0.222,"r":0.246},{"p":"S3","e":104,"b":0.225,"r":0.24},{"p":"S3","e":105,"b":0.222,"r":0.242},{"p":"S3","e":106,"b":0.22,"r":0.237},{"p":"S3","e":107,"b":0.221,"r":0.245},{"p":"S3","e":108,"b":0.222,"r":0.241},{"p":"S3","e":109,"b":0.22,"r":0.237},
{"p":"S3","e":110,"b":0.219,"r":0.238},{"p":"S3","e":111,"b":0.219,"r":0.235},{"p":"S3","e":112,"b":0.219,"r":0.238},{"p":"S3","e":113,"b":0.218,"r":0.235},{"p":"S3","e":114,"b":0.218,"r":0.238},{"p":"S3","e":115,"b":0.217,"r":0.232},{"p":"S3","e":116,"b":0.217,"r":0.242},{"p":"S3","e":117,"b":0.217,"r":0.237},{"p":"S3","e":118,"b":0.217,"r":0.233},{"p":"S3","e":119,"b":0.216,"r":0.244},
{"p":"S3","e":120,"b":0.227,"r":0.235},{"p":"S3","e":121,"b":0.225,"r":0.232},{"p":"S3","e":122,"b":0.225,"r":0.235},{"p":"S3","e":123,"b":0.224,"r":0.236},{"p":"S3","e":124,"b":0.223,"r":0.23},{"p":"S3","e":125,"b":0.222,"r":0.234},{"p":"S3","e":126,"b":0.22,"r":0.236},{"p":"S3","e":127,"b":0.221,"r":0.233},{"p":"S3","e":128,"b":0.219,"r":0.235},{"p":"S3","e":129,"b":0.219,"r":0.234},
{"p":"S3","e":130,"b":0.219,"r":0.236},{"p":"S3","e":131,"b":0.22,"r":0.233},{"p":"S3","e":132,"b":0.22,"r":0.235},{"p":"S3","e":133,"b":0.218,"r":0.234},{"p":"S3","e":134,"b":0.217,"r":0.236},{"p":"S3","e":135,"b":0.219,"r":0.235},{"p":"S3","e":136,"b":0.218,"r":0.229},{"p":"S3","e":137,"b":0.216,"r":0.24},{"p":"S3","e":138,"b":0.219,"r":0.235},{"p":"S3","e":139,"b":0.218,"r":0.237},
{"p":"S3","e":140,"b":0.217,"r":0.234},{"p":"S3","e":141,"b":0.216,"r":0.24},{"p":"S3","e":142,"b":0.216,"r":0.235},{"p":"S3","e":143,"b":0.217,"r":0.241},{"p":"S3","e":144,"b":0.219,"r":0.235},{"p":"S3","e":145,"b":0.214,"r":0.238},{"p":"S3","e":146,"b":0.213,"r":0.232},{"p":"S3","e":147,"b":0.214,"r":0.225},{"p":"S3","e":148,"b":0.212,"r":0.23},{"p":"S3","e":149,"b":0.211,"r":0.235},
{"p":"S3","e":150,"b":0.229,"r":0.243},
{"p":"SO","e":0,"b":0.45,"r":0.45},{"p":"SO","e":1,"b":0.45,"r":0.45},{"p":"SO","e":2,"b":0.45,"r":0.45},{"p":"SO","e":3,"b":0.413,"r":0.45},{"p":"SO","e":4,"b":0.367,"r":0.364},{"p":"SO","e":5,"b":0.344,"r":0.355},{"p":"SO","e":6,"b":0.325,"r":0.345},{"p":"SO","e":7,"b":0.313,"r":0.339},{"p":"SO","e":8,"b":0.303,"r":0.338},{"p":"SO","e":9,"b":0.296,"r":0.313},
{"p":"SO","e":10,"b":0.291,"r":0.311},{"p":"SO","e":11,"b":0.287,"r":0.296},{"p":"SO","e":12,"b":0.284,"r":0.303},{"p":"SO","e":13,"b":0.279,"r":0.295},{"p":"SO","e":14,"b":0.276,"r":0.294},{"p":"SO","e":15,"b":0.274,"r":0.302},{"p":"SO","e":16,"b":0.272,"r":0.29},{"p":"SO","e":17,"b":0.269,"r":0.295},{"p":"SO","e":18,"b":0.267,"r":0.289},{"p":"SO","e":19,"b":0.264,"r":0.286},
{"p":"SO","e":20,"b":0.262,"r":0.289},{"p":"SO","e":21,"b":0.26,"r":0.286},{"p":"SO","e":22,"b":0.258,"r":0.287},{"p":"SO","e":23,"b":0.257,"r":0.281},{"p":"SO","e":24,"b":0.256,"r":0.281},{"p":"SO","e":25,"b":0.255,"r":0.277},{"p":"SO","e":26,"b":0.254,"r":0.274},{"p":"SO","e":27,"b":0.253,"r":0.264},{"p":"SO","e":28,"b":0.252,"r":0.276},{"p":"SO","e":29,"b":0.253,"r":0.28},
{"p":"SO","e":30,"b":0.25,"r":0.272},{"p":"SO","e":31,"b":0.249,"r":0.271},{"p":"SO","e":32,"b":0.248,"r":0.27},{"p":"SO","e":33,"b":0.247,"r":0.269},{"p":"SO","e":34,"b":0.246,"r":0.267},{"p":"SO","e":35,"b":0.246,"r":0.27},{"p":"SO","e":36,"b":0.245,"r":0.267},{"p":"SO","e":37,"b":0.245,"r":0.267},{"p":"SO","e":38,"b":0.244,"r":0.272},{"p":"SO","e":39,"b":0.243,"r":0.264},
{"p":"SO","e":40,"b":0.242,"r":0.259},{"p":"SO","e":41,"b":0.242,"r":0.262},{"p":"SO","e":42,"b":0.24,"r":0.262},{"p":"SO","e":43,"b":0.245,"r":0.261},{"p":"SO","e":44,"b":0.24,"r":0.262},{"p":"SO","e":45,"b":0.238,"r":0.261},{"p":"SO","e":46,"b":0.235,"r":0.262},{"p":"SO","e":47,"b":0.234,"r":0.263},{"p":"SO","e":48,"b":0.233,"r":0.264},{"p":"SO","e":49,"b":0.234,"r":0.264},
{"p":"SO","e":50,"b":0.235,"r":0.261},{"p":"SO","e":51,"b":0.234,"r":0.256},{"p":"SO","e":52,"b":0.233,"r":0.257},{"p":"SO","e":53,"b":0.232,"r":0.253},{"p":"SO","e":54,"b":0.231,"r":0.259},{"p":"SO","e":55,"b":0.23,"r":0.252},{"p":"SO","e":56,"b":0.231,"r":0.254},{"p":"SO","e":57,"b":0.23,"r":0.261},{"p":"SO","e":58,"b":0.23,"r":0.254},{"p":"SO","e":59,"b":0.229,"r":0.257},
{"p":"SO","e":60,"b":0.229,"r":0.252},{"p":"SO","e":61,"b":0.228,"r":0.261},{"p":"SO","e":62,"b":0.227,"r":0.254},{"p":"SO","e":63,"b":0.227,"r":0.262},{"p":"SO","e":64,"b":0.226,"r":0.254},{"p":"SO","e":65,"b":0.225,"r":0.257},{"p":"SO","e":66,"b":0.226,"r":0.258},{"p":"SO","e":67,"b":0.225,"r":0.254},{"p":"SO","e":68,"b":0.225,"r":0.257},{"p":"SO","e":69,"b":0.226,"r":0.254},
{"p":"SO","e":70,"b":0.225,"r":0.251},{"p":"SO","e":71,"b":0.225,"r":0.254},{"p":"SO","e":72,"b":0.226,"r":0.252},{"p":"SO","e":73,"b":0.227,"r":0.249},{"p":"SO","e":74,"b":0.224,"r":0.257},{"p":"SO","e":75,"b":0.221,"r":0.239},{"p":"SO","e":76,"b":0.22,"r":0.254},{"p":"SO","e":77,"b":0.22,"r":0.249},{"p":"SO","e":78,"b":0.219,"r":0.245},{"p":"SO","e":79,"b":0.22,"r":0.242},
{"p":"SO","e":80,"b":0.219,"r":0.247},{"p":"SO","e":81,"b":0.219,"r":0.249},{"p":"SO","e":82,"b":0.22,"r":0.252},{"p":"SO","e":83,"b":0.223,"r":0.257},{"p":"SO","e":84,"b":0.218,"r":0.249},{"p":"SO","e":85,"b":0.219,"r":0.254},{"p":"SO","e":86,"b":0.219,"r":0.247},{"p":"SO","e":87,"b":0.217,"r":0.254},{"p":"SO","e":88,"b":0.219,"r":0.251},{"p":"SO","e":89,"b":0.218,"r":0.248},
{"p":"SO","e":90,"b":0.217,"r":0.252},{"p":"SO","e":91,"b":0.217,"r":0.253},{"p":"SO","e":92,"b":0.218,"r":0.249},{"p":"SO","e":93,"b":0.217,"r":0.252},{"p":"SO","e":94,"b":0.216,"r":0.247},{"p":"SO","e":95,"b":0.216,"r":0.252},{"p":"SO","e":96,"b":0.216,"r":0.253},{"p":"SO","e":97,"b":0.214,"r":0.249},{"p":"SO","e":98,"b":0.215,"r":0.248},{"p":"SO","e":99,"b":0.215,"r":0.252},
{"p":"SO","e":100,"b":0.214,"r":0.257},{"p":"SO","e":101,"b":0.214,"r":0.248},{"p":"SO","e":102,"b":0.215,"r":0.249},{"p":"SO","e":103,"b":0.216,"r":0.246},{"p":"SO","e":104,"b":0.214,"r":0.242},{"p":"SO","e":105,"b":0.213,"r":0.252},{"p":"SO","e":106,"b":0.216,"r":0.248},{"p":"SO","e":107,"b":0.213,"r":0.249},{"p":"SO","e":108,"b":0.212,"r":0.246},{"p":"SO","e":109,"b":0.213,"r":0.249},
{"p":"SO","e":110,"b":0.211,"r":0.252},{"p":"SO","e":111,"b":0.212,"r":0.249},{"p":"SO","e":112,"b":0.211,"r":0.249},{"p":"SO","e":113,"b":0.212,"r":0.252},{"p":"SO","e":114,"b":0.211,"r":0.246},{"p":"SO","e":115,"b":0.211,"r":0.251},{"p":"SO","e":116,"b":0.211,"r":0.258},{"p":"SO","e":117,"b":0.21,"r":0.248},{"p":"SO","e":118,"b":0.209,"r":0.249},{"p":"SO","e":119,"b":0.21,"r":0.246},
{"p":"SO","e":120,"b":0.209,"r":0.249},{"p":"SO","e":121,"b":0.209,"r":0.251},{"p":"SO","e":122,"b":0.209,"r":0.249},{"p":"SO","e":123,"b":0.208,"r":0.252},{"p":"SO","e":124,"b":0.209,"r":0.247},{"p":"SO","e":125,"b":0.208,"r":0.249},{"p":"SO","e":126,"b":0.208,"r":0.252},{"p":"SO","e":127,"b":0.208,"r":0.249},{"p":"SO","e":128,"b":0.209,"r":0.253},{"p":"SO","e":129,"b":0.208,"r":0.249},
{"p":"SO","e":130,"b":0.208,"r":0.257},{"p":"SO","e":131,"b":0.21,"r":0.246},{"p":"SO","e":132,"b":0.204,"r":0.26},{"p":"SO","e":133,"b":0.205,"r":0.251},{"p":"SO","e":134,"b":0.206,"r":0.248},{"p":"SO","e":135,"b":0.206,"r":0.252},{"p":"SO","e":136,"b":0.205,"r":0.249},{"p":"SO","e":137,"b":0.206,"r":0.253},{"p":"SO","e":138,"b":0.206,"r":0.249},{"p":"SO","e":139,"b":0.205,"r":0.248},
{"p":"SO","e":140,"b":0.204,"r":0.249},{"p":"SO","e":141,"b":0.205,"r":0.246},{"p":"SO","e":142,"b":0.206,"r":0.249},{"p":"SO","e":143,"b":0.205,"r":0.246},{"p":"SO","e":144,"b":0.204,"r":0.249},{"p":"SO","e":145,"b":0.203,"r":0.251},{"p":"SO","e":146,"b":0.202,"r":0.257},{"p":"SO","e":147,"b":0.202,"r":0.239},{"p":"SO","e":148,"b":0.2,"r":0.246},{"p":"SO","e":149,"b":0.201,"r":0.248},
{"p":"SO","e":150,"b":0.203,"r":0.25}
]
},
"data": {"name": "d"},
"transform": [
{"lookup": "p", "from": {"data": {"name": "panels"}, "key": "p", "fields": ["net", "sim"]}}
],
"facet": {
"row": {"field": "net", "type": "nominal", "sort": ["Large network", "Small network"],
 "header": {"title": "rΩ(θ̂)", "titleOrient": "left", "titlePadding": 1, "labelOrient": "right", "labelAngle": 90, "labelAlign": "center", "labelBaseline": "top", "labelPadding": 3}},
"column": {"field": "sim", "type": "nominal", "sort": ["Simulate training data every epoch", "Simulate training data every 30 epochs", "Simulate training data once only"],
 "header": {"title": "epoch", "titleOrient": "bottom", "labelOrient": "top", "labelPadding": 6, "titlePadding": -8}}
},
"spacing": {"row": 10, "column": 5.5},
"spec": {
"width": 368,
"height": 274,
"layer": [
{
"transform": [{"filter": "datum.e == 0"}],
"mark": {"type": "rule", "color": "#FFBFBF", "strokeWidth": 1.8, "strokeDash": [8, 8]},
"encoding": {
"y": {"datum": 0.197, "type": "quantitative", "scale": {"domain": [0.058, 0.459], "nice": false, "zero": false}, "axis": {"title": null, "grid": true}}
}
},
{
"mark": {"type": "line", "color": "#0000FF", "strokeWidth": 1.8, "strokeJoin": "round"},
"encoding": {
"x": {"field": "e", "type": "quantitative", "scale": {"domain": [-7.5, 157.5], "nice": false, "zero": false},
 "axis": {"title": null, "grid": true, "values": [0, 25, 50, 75, 100, 125, 150],
  "labelExpr": "datum.value % 50 == 0 ? datum.label : ''",
  "gridWidth": {"condition": {"test": "datum.value % 50 == 0", "value": 1.4}, "value": 0.7},
  "tickOpacity": {"condition": {"test": "datum.value % 50 == 0", "value": 1}, "value": 0}}},
"y": {"field": "b", "type": "quantitative", "scale": {"domain": [0.058, 0.459], "nice": false, "zero": false},
 "axis": {"title": null, "grid": true, "values": [0.1, 0.15, 0.2, 0.25, 0.3, 0.35, 0.4, 0.45],
  "labelExpr": "round(datum.value * 100) % 10 == 0 ? format(datum.value, '.1f') : ''",
  "gridWidth": {"condition": {"test": "round(datum.value * 100) % 10 == 0", "value": 1.4}, "value": 0.7},
  "tickOpacity": {"condition": {"test": "round(datum.value * 100) % 10 == 0", "value": 1}, "value": 0}}}
}
},
{
"mark": {"type": "line", "color": "#FF0000", "strokeWidth": 1.8, "strokeJoin": "round"},
"encoding": {
"x": {"field": "e", "type": "quantitative", "scale": {"domain": [-7.5, 157.5], "nice": false, "zero": false}, "axis": {"title": null, "grid": true}},
"y": {"field": "r", "type": "quantitative", "scale": {"domain": [0.058, 0.459], "nice": false, "zero": false}, "axis": {"title": null, "grid": true}}
}
}
]
},
"config": {
"font": "Liberation Sans",
"view": {"stroke": "#333333", "strokeWidth": 1.3},
"axis": {"domain": false, "grid": true, "labelFontSize": 16, "labelColor": "#4D4D4D", "labelFont": "Liberation Sans", "tickColor": "#333333", "tickSize": 5, "tickWidth": 1.2, "labelPadding": 3, "gridColor": "#EBEBEB", "labelOverlap": false},
"header": {"labelFont": "Liberation Sans", "labelFontSize": 20.5, "labelColor": "#1A1A1A", "titleFont": "Liberation Sans", "titleFontSize": 20.5, "titleFontWeight": "normal", "titleColor": "#000000"}
}
}
